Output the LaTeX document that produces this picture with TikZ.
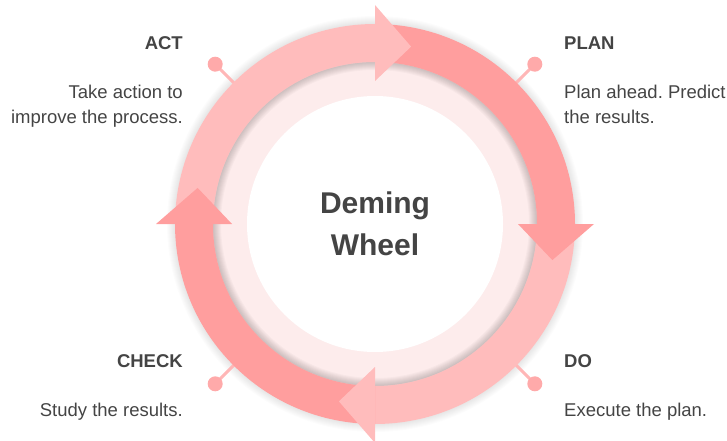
\documentclass[tikz,border=0pt]{standalone}
\usepackage{fontspec}
\setmainfont{Liberation Sans}
\frenchspacing

\definecolor{ringDark}{HTML}{FF9E9E}
\definecolor{ringLight}{HTML}{FFBCBC}
\definecolor{bandPink}{HTML}{FDECEC}
\definecolor{pinPink}{HTML}{FFAAAA}
\definecolor{textGray}{HTML}{444444}

\tikzset{
  title/.style={font=\bfseries\fontsize{18.5}{25}\selectfont, text=textGray, inner sep=0pt},
  note/.style={font=\fontsize{18.5}{25}\selectfont, text=textGray, inner sep=0pt, align=#1},
  note/.default=left,
}

\begin{document}
\begin{tikzpicture}[x=1pt, y=1pt]

    % Dimensions
    \def\diskR{128}      % radius of the white disk
    \def\ringIn{162}     % inner radius of the ring
    \def\ringOut{200}    % outer radius of the ring
    \def\ringMid{181}    % where the arrow tips sit
    \def\headIn{143}     % arrow head, inner corner
    \def\headOut{219}    % arrow head, outer corner
    \def\headTurn{11.5}  % angle from head base to tip
    \def\pinR{226}       % radius of the pin dots

    \useasboundingbox (0,0) rectangle (727,440);
    \coordinate (hub) at (375,216);

    % Draw the pink band and the white disk
    \fill[bandPink] (hub) circle (\ringIn);
    \fill[white] (hub) circle (\diskR);

    % Soft shadow round the ring
    \foreach \w in {2,4,...,16} {
        \draw[black, opacity=0.022, line width=\w pt] (hub) circle (\ringIn);
        \draw[black, opacity=0.012, line width=\w pt] (hub) circle (\ringOut);
    }

    % Draw the pins (under the ring)
    \foreach \a/\n in {135/act, 45/plan, -45/do, -135/check} {
        \draw[pinPink!85, line width=3pt] ([shift={(\a:190)}]hub) -- ([shift={(\a:\pinR)}]hub) coordinate (pin\n);
        \fill[pinPink] (pin\n) circle (7.5);
    }

    % Draw the four quarters of the ring
    \foreach \start/\col in {180/ringLight, 90/ringDark, 0/ringLight, -90/ringDark} {
        \fill[\col] ([shift={(\start:\ringOut)}]hub)
            arc[start angle=\start, end angle=\start-90, radius=\ringOut]
            -- ([shift={(\start-90:\ringIn)}]hub)
            arc[start angle=\start-90, end angle=\start, radius=\ringIn] -- cycle;
    }

    % Draw the arrow heads at the end of each quarter
    \foreach \stop/\col in {90/ringLight, 0/ringDark, -90/ringLight, -180/ringDark} {
        \fill[\col] ([shift={(\stop:\headIn)}]hub) -- ([shift={(\stop:\headOut)}]hub)
            -- ([shift={(\stop-\headTurn:\ringMid)}]hub) -- cycle;
    }

    % Label in the middle
    \node[font=\bfseries\fontsize{30}{42}\selectfont, text=textGray, align=center] (wheel) at (hub) {Deming\\Wheel};

    % Labels for the four steps (two-line notes sit on their last line)
    \node[title, anchor=base east] (actTitle) at (183,390.4) {ACT};
    \node[note=right, anchor=base east] (actNote) at (183,316.4) {Take action to\\improve the process.};

    \node[title, anchor=base west] (planTitle) at (564,390.4) {PLAN};
    \node[note, anchor=base west] (planNote) at (564,316.4) {Plan ahead. Predict\\the results.};

    \node[title, anchor=base east] (checkTitle) at (183,72.7) {CHECK};
    \node[note=right, anchor=base east] (checkNote) at (183,23.7) {Study the results.};

    \node[title, anchor=base west] (doTitle) at (564,72.7) {DO};
    \node[note, anchor=base west] (doNote) at (564,23.7) {Execute the plan.};

\end{tikzpicture}
\end{document}
